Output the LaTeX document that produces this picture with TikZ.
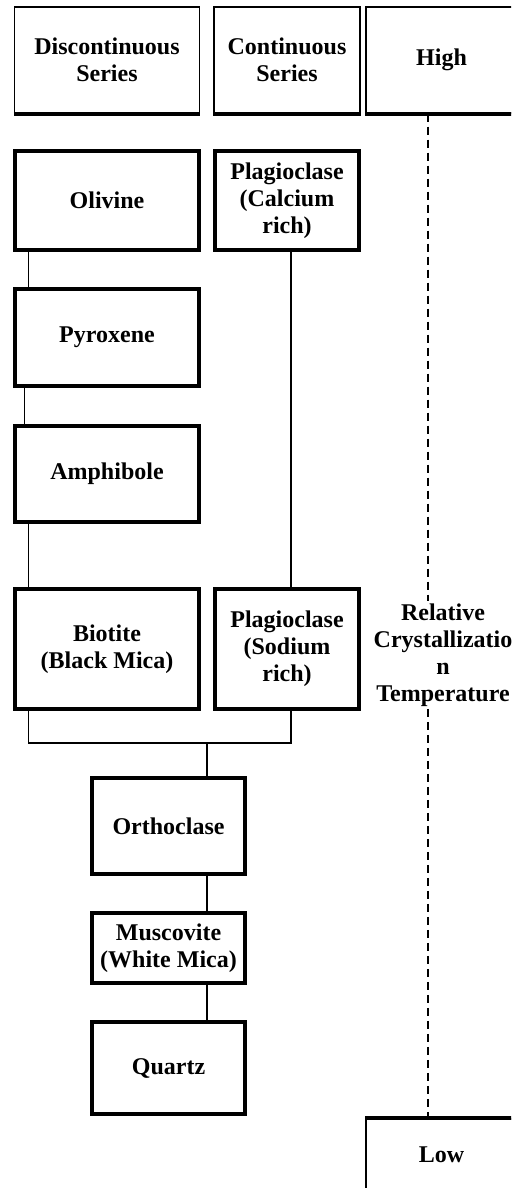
\documentclass[tikz,border=0pt]{standalone}
\usepackage{fontspec}
\setmainfont{Liberation Serif}
\usepackage{tikz}

\tikzset{
	head/.style={draw, line width=0.65pt, minimum width=92.5pt, minimum height=53pt, align=center, inner sep=0pt},
	mineral/.style={draw, line width=1.65pt, minimum width=92pt, minimum height=48.5pt, align=center, inner sep=0pt},
	link/.style={line width=0.8pt},
	heavy/.style={line width=2pt},
	falls/.style={link, dash pattern=on 4pt off 2.5pt}
}

\begin{document}
\begin{tikzpicture}[x=0.5pt,y=-0.5pt,font=\fontsize{12}{13.5}\selectfont\bfseries]
\useasboundingbox (0,0) rectangle (511,1188);
\clip (0,0) rectangle (511,1188);
\node[head] (disc) at (107,60) {Discontinuous\\Series};
\node[head, minimum width=73pt] (cont) at (287,60) {Continuous\\Series};
\node[head, minimum width=75.5pt] (high) at (441.5,60) {High};
\node[head, minimum width=75.5pt, minimum height=36pt] (low) at (441.5,1155) {Low};
\foreach \n in {disc,cont,high}
{
	\draw[heavy] (\n.south west) -- (\n.south east);
}
\draw[heavy] (low.north west) -- (low.north east);
\node[mineral, minimum height=49.5pt] (olivine) at (107,200.5) {Olivine};
\node[mineral, minimum width=72pt, minimum height=49.5pt] (plagca) at (287,200.5) {Plagioclase\\(Calcium\\rich)};
\node[mineral] (pyroxene) at (107,337.5) {Pyroxene};
\node[mineral, minimum height=48pt] (amphibole) at (107,474) {Amphibole};
\node[mineral, minimum height=60pt] (biotite) at (107,649) {Biotite\\(Black Mica)};
\node[mineral, minimum width=72pt, minimum height=60pt] (plagna) at (287,649) {Plagioclase\\(Sodium\\rich)};
\node[mineral, minimum width=76.5pt, minimum height=48pt] (orthoclase) at (168.5,826) {Orthoclase};
\node[mineral, minimum width=76.5pt, minimum height=35pt] (muscovite) at (168.5,948) {Muscovite\\(White Mica)};
\node[mineral, minimum width=76.5pt, minimum height=46pt] (quartz) at (168.5,1068) {Quartz};
\node[align=center, inner sep=1pt] (reltemp) at (443,655) {Relative\\Crystallizatio\\n\\Temperature};
\coordinate (join) at (207,743);
\draw[link] ([xshift=7.5pt]olivine.south west) -- ([xshift=7.5pt]pyroxene.north west);
\draw[link] ([xshift=5.5pt]pyroxene.south west) -- ([xshift=5.5pt]amphibole.north west);
\draw[link] ([xshift=7.5pt]amphibole.south west) -- ([xshift=7.5pt]biotite.north west);
\draw[link] ([xshift=2pt]plagca.south) -- ([xshift=2pt]plagna.north);
\draw[link] ([xshift=7.5pt]biotite.south west) |- (join) -| ([xshift=2pt]plagna.south);
\draw[link] (join) -- (join |- orthoclase.north);
\draw[link] (orthoclase.south -| join) -- (muscovite.north -| join);
\draw[link] (muscovite.south -| join) -- (quartz.north -| join);
\draw[falls] ([xshift=-6.75pt]high.south) -- ([xshift=-6.75pt]high.south |- reltemp.north);
\draw[falls] ([xshift=-6.75pt]low.north |- reltemp.south) -- ([xshift=-6.75pt]low.north);
\end{tikzpicture}
\end{document}
